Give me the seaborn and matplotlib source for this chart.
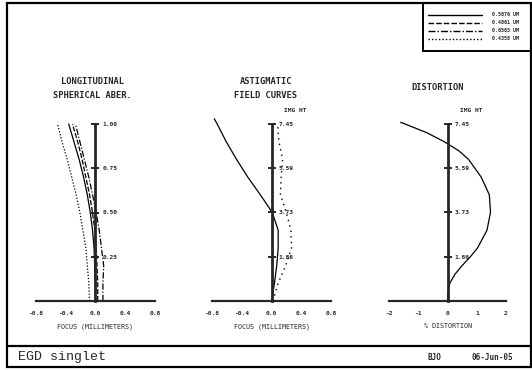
import numpy as np
import pandas as pd
import matplotlib
matplotlib.use("Agg")
import matplotlib.pyplot as plt
import seaborn as sns
from matplotlib.patches import Rectangle
from matplotlib.lines import Line2D

# ------------------------------------------------------------------
# data
# ------------------------------------------------------------------
WAVELENGTHS = ["0.5876 UM", "0.4861 UM", "0.6563 UM", "0.4358 UM"]
WL_STYLES = ["-", (0, (4, 1.5)), (0, (5, 1.5, 1, 1.5)), (0, (1, 1.5))]

# longitudinal spherical aberration: focus shift (mm) vs normalized pupil
PUPIL = [0.0, 0.1, 0.2, 0.3, 0.4, 0.5, 0.6, 0.7, 0.8, 0.9, 1.0]
LSA_1 = [0.00, 0.00, -0.01, -0.02, -0.04, -0.07, -0.11, -0.16, -0.22, -0.29, -0.36]
LSA_2 = [0.03, 0.03, 0.02, 0.01, -0.01, -0.04, -0.08, -0.13, -0.18, -0.24, -0.31]
LSA_3 = [0.10, 0.10, 0.11, 0.08, 0.05, 0.01, -0.04, -0.09, -0.15, -0.21, -0.27]
LSA_4 = [-0.08, -0.09, -0.11, -0.13, -0.17, -0.21, -0.26, -0.32, -0.38, -0.45, -0.51]

# astigmatic field curves: focus (mm) vs image height (mm)
IMG_TICKS = [1.86, 3.73, 5.59, 7.45]
FIELD_T = [0.0, 0.75, 1.49, 2.24, 2.98, 3.73, 4.47, 5.22, 5.96, 6.71, 7.45, 7.67]
TANG = [0.00, 0.04, 0.07, 0.09, 0.09, 0.01, -0.15, -0.32, -0.47, -0.61, -0.73, -0.77]
FIELD_S = [0.0, 0.75, 1.49, 2.24, 2.98, 3.73, 4.47, 5.22, 5.96, 6.71, 7.45]
SAG = [0.02, 0.09, 0.19, 0.27, 0.26, 0.20, 0.12, 0.13, 0.15, 0.10, 0.08]

# distortion (%) vs image height (mm)
FIELD_D = [0.0, 0.37, 0.75, 1.12, 1.49, 1.86, 2.24, 2.98, 3.73, 4.47, 5.22,
           5.96, 6.33, 6.71, 7.08, 7.45, 7.52]
DIST = [0.00, 0.02, 0.08, 0.25, 0.50, 0.78, 1.03, 1.35, 1.47, 1.43, 1.15,
        0.72, 0.38, -0.12, -0.70, -1.45, -1.60]

W, H = 532, 370
sns.set_style("white")
plt.rcParams["font.family"] = ["DejaVu Sans Mono"]
plt.rcParams["font.weight"] = "bold"

fig = plt.figure(figsize=(W / 100, H / 100), dpi=100)
fig.patch.set_facecolor("white")


def fx(px):
    return px / W


def fy(py):
    return 1 - py / H


# frame, footer line, legend box
fig.add_artist(Rectangle((fx(7), fy(367)), fx(524), fy(3) - fy(367), transform=fig.transFigure,
                         fill=False, lw=1.6, ec="black"))
fig.add_artist(Line2D([fx(7), fx(532)], [fy(346), fy(346)], transform=fig.transFigure,
                      lw=1.6, color="black"))
fig.add_artist(Rectangle((fx(423), fy(51)), fx(108), fy(3) - fy(51), transform=fig.transFigure,
                         fill=False, lw=1.4, ec="black"))
for i, (lab, ls) in enumerate(zip(WAVELENGTHS, WL_STYLES)):
    yy = fy(15 + 8 * i)
    fig.add_artist(Line2D([fx(428), fx(482)], [yy, yy], transform=fig.transFigure,
                          lw=1.0, color="black", linestyle=ls))
    fig.text(fx(492), yy, lab, fontsize=3.6, va="center", ha="left")

fig.text(fx(18), fy(357), "EGD singlet", fontsize=9.5, family="Liberation Mono",
         weight="normal", va="center", ha="left")
fig.text(fx(427), fy(357), "BJO", fontsize=5.5, va="center", ha="left")
fig.text(fx(472), fy(357), "06-Jun-05", fontsize=5.5, va="center", ha="left")

# titles
fig.text(fx(92), fy(81), "LONGITUDINAL", fontsize=6.3, ha="center", va="center")
fig.text(fx(92), fy(96), "SPHERICAL ABER.", fontsize=6.3, ha="center", va="center")
fig.text(fx(266), fy(81), "ASTIGMATIC", fontsize=6.3, ha="center", va="center")
fig.text(fx(266), fy(95), "FIELD CURVES", fontsize=6.3, ha="center", va="center")
fig.text(fx(438), fy(87), "DISTORTION", fontsize=6.3, ha="center", va="center")

AX_BOTTOM, AX_UNIT = 301, 177  # pixel row of y=0 and pixels for full scale


def make_axes(x0, x1, ymax):
    top = AX_BOTTOM - AX_UNIT * 1.05
    ax = fig.add_axes([fx(x0), fy(AX_BOTTOM), fx(x1 - x0), fy(top) - fy(AX_BOTTOM)])
    ax.set_facecolor("none")
    ax.set_ylim(0, ymax * 1.05)
    for s in ["top", "left"]:
        ax.spines[s].set_visible(False)
    ax.spines["right"].set_position(("data", 0))
    ax.spines["right"].set_bounds(0, ymax)
    ax.spines["right"].set_linewidth(2.0)
    ax.spines["bottom"].set_linewidth(1.6)
    ax.yaxis.set_ticks_position("right")
    ax.tick_params(axis="y", direction="inout", length=6, width=1.4, pad=2, labelsize=4.5)
    ax.tick_params(axis="x", direction="inout", length=5, width=1.4, pad=5, labelsize=4.5)
    return ax


def draw(ax, xs, ys, ls, lw=0.9):
    df = pd.DataFrame({"x": xs, "y": ys})
    sns.lineplot(data=df, x="x", y="y", sort=False, estimator=None, ax=ax,
                 color="black", lw=lw, linestyle=ls, legend=False)
    ax.lines[-1].set_clip_on(False)


# ---- longitudinal spherical aberration
ax1 = make_axes(36, 155, 1.0)
for vals, ls in zip([LSA_1, LSA_2, LSA_3, LSA_4], WL_STYLES):
    draw(ax1, vals, PUPIL, ls)
ax1.set_xlim(-0.8, 0.8)
ax1.set_xticks([-0.8, -0.4, 0.0, 0.4, 0.8])
ax1.set_xticklabels(["-0.8", "-0.4", "0.0", "0.4", "0.8"])
ax1.set_yticks([0.25, 0.5, 0.75, 1.0])
ax1.set_yticklabels(["0.25", "0.50", "0.75", "1.00"])
ax1.set_xlabel("FOCUS (MILLIMETERS)", fontsize=4.8, labelpad=5)
ax1.set_ylabel("")

# ---- astigmatic field curves
ax2 = make_axes(212, 331, 7.45)
draw(ax2, TANG, FIELD_T, "-")
draw(ax2, SAG, FIELD_S, (0, (1, 3)), lw=1.0)
ax2.set_xlim(-0.8, 0.8)
ax2.set_xticks([-0.8, -0.4, 0.0, 0.4, 0.8])
ax2.set_xticklabels(["-0.8", "-0.4", "0.0", "0.4", "0.8"])
ax2.set_yticks(IMG_TICKS)
ax2.set_yticklabels([f"{v:.2f}" for v in IMG_TICKS])
ax2.set_xlabel("FOCUS (MILLIMETERS)", fontsize=4.8, labelpad=5)
ax2.set_ylabel("")
ax2.annotate("IMG HT", xy=(0, 7.45), xytext=(9, 10), textcoords="offset points",
             fontsize=4.5, va="center", ha="left")

# ---- distortion
ax3 = make_axes(389, 506, 7.45)
draw(ax3, DIST, FIELD_D, "-")
ax3.set_xlim(-2, 2)
ax3.set_xticks([-2, -1, 0, 1, 2])
ax3.set_xticklabels(["-2", "-1", "0", "1", "2"])
ax3.set_yticks(IMG_TICKS)
ax3.set_yticklabels([f"{v:.2f}" for v in IMG_TICKS])
ax3.set_xlabel("% DISTORTION", fontsize=4.8, labelpad=5)
ax3.set_ylabel("")
ax3.annotate("IMG HT", xy=(0, 7.45), xytext=(9, 10), textcoords="offset points",
             fontsize=4.5, va="center", ha="left")

fig.savefig("out.png", dpi=100)
